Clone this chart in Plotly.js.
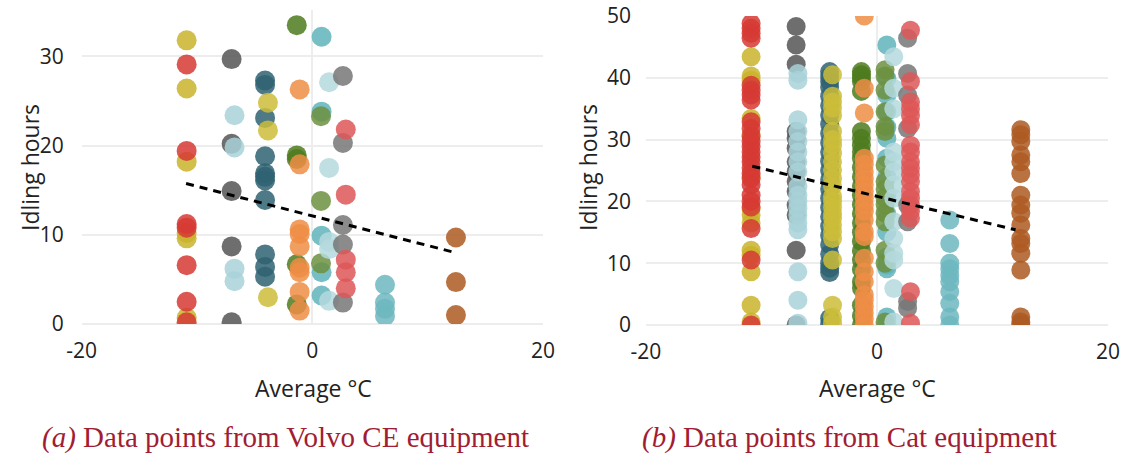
<!DOCTYPE html>
<html>
<head>
<meta charset="utf-8">
<script src="https://cdn.plot.ly/plotly-3.0.1.min.js"></script>
<style>html,body{margin:0;padding:0;background:#fff;}#chart{width:1131px;height:453px;}</style>
</head>
<body>
<div id="chart"></div>
<script>
// ---------- Data (a) Volvo CE ----------
const volvoTemps = [-10.9, -10.9, -7.0, -6.75, -4.1, -3.85, -1.35, -1.1, 0.8, 0.75, 1.45, 2.65, 2.9, 6.3, 12.45];
const volvoYellowA = [31.8, 26.4, 18.2, 10.2, 9.6, 0.7];
const volvoRedA = [29.1, 19.4, 11.2, 10.8, 6.6, 2.5, 0.2];
const volvoDarkGray = [29.7, 20.2, 14.9, 8.7, 0.2];
const volvoLightBlueA = [23.4, 19.8, 6.2, 4.8];
const volvoDarkTeal = [27.3, 26.8, 23.1, 18.8, 16.9, 16.5, 16.1, 13.9, 7.8, 6.4, 5.3];
const volvoYellowB = [24.8, 21.7, 3.0];
const volvoGreenDark = [33.5, 18.9, 18.5, 6.7, 2.2];
const volvoOrange = [26.3, 17.9, 10.6, 10.1, 8.7, 6.3, 5.8, 3.6, 1.5];
const volvoTealA = [32.2, 23.8, 9.9, 5.8, 3.2];
const volvoGreenLight = [23.3, 13.8, 6.8];
const volvoLightBlueB = [27.1, 17.5, 9.2, 8.4, 2.6];
const volvoGray = [27.8, 20.3, 11.1, 8.9, 2.4];
const volvoRedB = [21.8, 14.5, 7.2, 5.8, 4.0];
const volvoTealB = [4.4, 2.4, 1.7, 0.9];
const volvoBrown = [9.7, 4.7, 1.0];
const volvoTrendX = [-10.95, 12.1];
const volvoTrendY = [15.75, 8.1];

// ---------- Data (b) Cat ----------
const catTemps = [-10.9, -10.9, -7.0, -6.85, -4.1, -3.85, -1.35, -1.1, 0.85, 0.7, 1.45, 2.65, 2.9, 6.3, 12.45];
const catYellowA = [43.4, 40.3, 39.6, 33.4, 30.8, 24.0, 18.8, 17.8, 16.5, 12.1, 11.3, 8.6, 3.2, 0.5];
const catRedA = [48.8, 48.0, 47.2, 46.4, 38.8, 38.0, 37.2, 36.4, 32.9, 31.8, 30.5, 29.7, 28.9, 28.0, 27.2, 26.4, 25.4, 24.5, 23.7, 22.7, 21.0, 20.0, 19.1, 15.6, 10.5, 0.0];
const catDarkGray = [48.3, 45.3, 42.2, 31.3, 30.2, 28.6, 26.4, 24.8, 23.2, 21.6, 19.4, 17.8, 12.1, 0.0];
const catLightBlueA = [40.7, 39.6, 33.2, 31.3, 29.7, 28.0, 26.4, 24.8, 22.4, 21.0, 20.0, 18.9, 17.8, 16.5, 15.4, 8.6, 4.0, 0.3];
const catDarkTeal = [41.0, 40.2, 39.4, 38.5, 37.0, 35.5, 34.0, 32.5, 31.0, 29.5, 28.0, 26.5, 25.0, 23.5, 22.0, 20.5, 19.0, 17.5, 16.0, 14.5, 13.0, 11.5, 10.0, 9.2, 8.5, 1.1, 0.2];
const catYellowB = [40.5, 37.0, 36.1, 35.1, 33.9, 31.3, 30.0, 29.1, 27.8, 26.4, 25.1, 23.7, 22.5, 20.8, 20.0, 19.0, 18.0, 17.3, 16.2, 15.1, 14.0, 10.5, 3.2, 1.3, 0.3];
const catGreenDark = [41.0, 40.5, 40.0, 39.4, 37.8, 31.3, 30.2, 29.1, 28.0, 27.0, 25.5, 24.0, 22.5, 21.0, 19.5, 18.0, 16.5, 15.0, 13.5, 12.0, 10.5, 9.0, 7.0, 6.0, 3.2, 1.5, 0.0];
const catOrange = [50.0, 38.3, 34.3, 27.0, 26.0, 24.8, 23.7, 22.7, 21.6, 20.5, 19.4, 18.4, 17.0, 15.1, 14.3, 10.8, 8.6, 7.0, 4.9, 4.0, 3.0, 2.0, 1.0, 0.0];
const catTealA = [45.3, 39.9, 37.2, 34.5, 32.0, 30.2, 27.0, 24.0, 21.0, 18.0, 15.0, 11.0, 9.7, 9.1, 1.3, 0.2];
const catGreenLight = [41.3, 40.3, 38.0, 34.5, 32.1, 31.3, 25.9, 23.2, 22.0, 20.5, 19.5, 18.1, 16.7, 12.1, 10.0, 0.5];
const catLightBlueB = [43.4, 38.3, 35.0, 28.0, 26.4, 24.8, 22.7, 20.5, 16.7, 14.0, 11.6, 10.5, 5.9, 0.5];
const catGray = [46.4, 40.7, 37.2, 31.8, 19.4, 16.7, 3.8, 2.7];
const catRedB = [47.7, 39.4, 36.1, 35.0, 33.9, 32.4, 29.1, 28.0, 26.4, 25.4, 24.3, 23.2, 21.6, 20.5, 19.4, 18.4, 17.3, 5.4, 0.3];
const catTealB = [17.0, 13.2, 10.0, 9.1, 8.0, 7.0, 5.4, 3.5, 1.3, 0.0];
const catBrown = [31.6, 30.8, 29.7, 27.5, 26.4, 24.5, 21.0, 19.4, 18.1, 16.2, 14.0, 13.2, 11.6, 8.9, 1.3, 0.5, 0.0];
const catTrendX = [-10.8, 12.0];
const catTrendY = [25.7, 15.4];

// ---------- Styles ----------
const seriesColors = ['#c9b32b', '#d63a34', '#555555', '#a8d2d8', '#2f6272', '#cdbd3a', '#4e7b1f',
                      '#ef8d45', '#5fb3bb', '#6c913f', '#b4d9dd', '#777777', '#de5757', '#6db7be', '#ad5b22'];

const volvoSeries = [volvoYellowA, volvoRedA, volvoDarkGray, volvoLightBlueA, volvoDarkTeal, volvoYellowB,
  volvoGreenDark, volvoOrange, volvoTealA, volvoGreenLight, volvoLightBlueB, volvoGray, volvoRedB, volvoTealB, volvoBrown];
const catSeries = [catYellowA, catRedA, catDarkGray, catLightBlueA, catDarkTeal, catYellowB,
  catGreenDark, catOrange, catTealA, catGreenLight, catLightBlueB, catGray, catRedB, catTealB, catBrown];

const traces = [];
function addScatter(temps, series, xa, ya, size) {
  series.forEach((hrs, i) => {
    traces.push({
      type: 'scatter', mode: 'markers',
      x: hrs.map(() => temps[i]), y: hrs,
      xaxis: xa, yaxis: ya,
      marker: {color: seriesColors[i], size: size, opacity: 0.85, line: {width: 0}},
      hoverinfo: 'skip'
    });
  });
}
addScatter(volvoTemps, volvoSeries, 'x', 'y', 20);
addScatter(catTemps, catSeries, 'x2', 'y2', 19);
traces.push({type: 'scatter', mode: 'lines', x: volvoTrendX, y: volvoTrendY, xaxis: 'x', yaxis: 'y',
  line: {color: '#000', width: 3, dash: '8px,6px'}, hoverinfo: 'skip'});
traces.push({type: 'scatter', mode: 'lines', x: catTrendX, y: catTrendY, xaxis: 'x2', yaxis: 'y2',
  line: {color: '#000', width: 3, dash: '8px,6px'}, hoverinfo: 'skip'});

const W = 1131, H = 453;
const tickFont = {family: 'Open Sans, sans-serif', size: 21, color: '#222'};
const gridColor = '#ededed';
function xAxis(d, anchor) {
  return {domain: d, anchor: anchor, range: [-20, 20], tickvals: [-20, 0, 20], ticktext: ['-20', '0', '20'],
    showgrid: true, gridcolor: gridColor, gridwidth: 2, zeroline: true, zerolinecolor: gridColor, zerolinewidth: 2,
    showline: false, ticks: '', tickfont: tickFont, ticklabelstandoff: 12, fixedrange: true};
}
function yAxis(d, anchor, r, tv, standoff) {
  return {domain: d, anchor: anchor, range: r, tickvals: tv, showgrid: true, gridcolor: gridColor, gridwidth: 2,
    zeroline: true, zerolinecolor: gridColor, zerolinewidth: 2, showline: false, ticks: '',
    tickfont: tickFont, ticklabelstandoff: standoff, fixedrange: true};
}

const titleFont = {family: 'Open Sans, sans-serif', size: 23, color: '#222'};
const capFont = {family: 'Liberation Serif, serif', size: 29, color: '#a11d33'};

const layout = {
  width: W, height: H,
  margin: {l: 0, r: 0, t: 0, b: 0},
  paper_bgcolor: '#fff', plot_bgcolor: '#fff',
  showlegend: false, hovermode: false,
  xaxis: xAxis([81.7 / W, 543 / W], 'y'),
  yaxis: yAxis([(H - 324) / H, (H - 10) / H], 'x', [0, 35.2], [0, 10, 20, 30], 17),
  xaxis2: xAxis([646 / W, 1108 / W], 'y2'),
  yaxis2: yAxis([(H - 325) / H, (H - 16) / H], 'x2', [0, 50], [0, 10, 20, 30, 40, 50], 14),
  annotations: [
    {text: 'Idling hours', xref: 'paper', yref: 'paper', x: 30 / W, y: (H - 168) / H, textangle: -90,
     showarrow: false, font: titleFont, xanchor: 'center', yanchor: 'middle'},
    {text: 'Idling hours', xref: 'paper', yref: 'paper', x: 588 / W, y: (H - 168) / H, textangle: -90,
     showarrow: false, font: titleFont, xanchor: 'center', yanchor: 'middle'},
    {text: 'Average °C', xref: 'paper', yref: 'paper', x: 313 / W, y: (H - 388) / H,
     showarrow: false, font: titleFont, xanchor: 'center', yanchor: 'middle'},
    {text: 'Average °C', xref: 'paper', yref: 'paper', x: 877 / W, y: (H - 388) / H,
     showarrow: false, font: titleFont, xanchor: 'center', yanchor: 'middle'},
    {text: '<i>(a)</i> Data points from Volvo CE equipment', xref: 'paper', yref: 'paper', x: 285 / W, y: (H - 437) / H,
     showarrow: false, font: capFont, xanchor: 'center', yanchor: 'middle'},
    {text: '<i>(b)</i> Data points from Cat equipment', xref: 'paper', yref: 'paper', x: 850 / W, y: (H - 437) / H,
     showarrow: false, font: capFont, xanchor: 'center', yanchor: 'middle'}
  ]
};

Plotly.newPlot('chart', traces, layout, {displayModeBar: false, staticPlot: true});
</script>
</body>
</html>
